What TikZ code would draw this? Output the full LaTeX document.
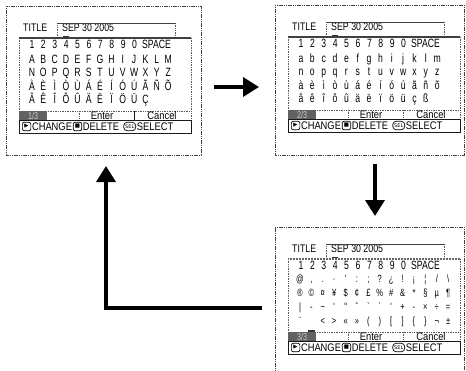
\documentclass[tikz,border=0pt]{standalone}
\usepackage{fontspec}
\setmainfont{Liberation Sans}[FakeStretch=0.85]
\newfontfamily\narrowf{Liberation Sans}[FakeStretch=0.72]
\newfontfamily\midf{Liberation Sans}[FakeStretch=0.8]
\newfontfamily\symf{DejaVu Sans}
\usetikzlibrary{arrows.meta}
\tikzset{
  outerbox/.style={draw=black!75, line width=1pt, dash pattern=on 1.2pt off 0.6pt},
  dotline/.style={draw=black!65, line width=0.8pt, dash pattern=on 1pt off 0.7pt},
  boxline/.style={draw=black!90, line width=0.9pt},
  thinsolid/.style={draw=black!75, line width=0.7pt},
  gridtop/.style={draw=black!75, line width=2pt},
  gridtopdot/.style={draw=black!60, line width=2pt, dash pattern=on 1pt off 0.5pt},
  titletext/.style={inner sep=0pt, text=black, font=\midf\fontsize{11}{12}\selectfont},
  glyph/.style={inner sep=0pt, text=black, font=\narrowf\fontsize{12}{13}\selectfont},
  symglyph/.style={inner sep=0pt, text=black, font=\narrowf\fontsize{10.5}{12}\selectfont},
  menu/.style={inner sep=0pt, text=black, font=\fontsize{11}{12}\selectfont},
  cmd/.style={inner sep=0pt, text=black, font=\fontsize{11}{12}\selectfont},
  pagebox/.style={fill=black!62, draw=none, text=white!80!black, inner sep=0pt, font=\narrowf\fontsize{10}{10}\selectfont},
  iconbox/.style={draw=black, line width=0.7pt, rounded corners=2pt, inner sep=0.5pt,
    minimum height=8.5pt, minimum width=8.5pt, text=black, font=\symf\fontsize{5.5}{6}\selectfont},
  selbox/.style={draw=black, line width=0.7pt, rounded corners=3.5pt, inner sep=0.8pt,
    minimum height=8.5pt, minimum width=12pt, text=black, font=\symf\fontsize{5}{6}\selectfont},
  bigarrow/.style={draw=black, line width=3.5pt, line join=miter, -{Triangle[length=16pt,width=19pt]}},
}
% a row of single glyphs: #1 name prefix, #2 first x, #3 step, #4 baseline y, #5 list, #6 style
\newcommand{\glyphrow}[6]{%
  \foreach \s [count=\i] in {#5} {\node[#6, anchor=base] (#1c\i) at ({#2+#3*(\i-1)}, #4) {\s};}%
}
% common parts of one screen: #1 prefix, #2 page text, #3 first divider, #4 second divider, #5 grid top
\newcommand{\camframe}[5]{%
  \node[titletext, anchor=base west] (#1title) at (17,25) {TITLE};
  \node[titletext, anchor=base west] (#1sep) at (56,25) {SEP 30 2005};
  \draw[dotline] (51,32) -- (51,17);
  \draw[thinsolid] (51,17) -- (169,17);
  \draw[dotline] (169,17) -- (169,32);
  \fill[black!80] (56.5,29.6) rectangle (62.5,31.4);
  \draw[dotline] (13,32) -- (13,114);
  \draw[dotline] (185,32) -- (185,114);
  \draw[dotline] (13,105) -- (185,105);
  \draw[#5] (13,32) -- (185,32);
  \node[pagebox, anchor=north west, minimum width=28pt, minimum height=9pt] (#1page) at (13,105) {#2};
  \draw[#3] (73,105) -- (73,114);
  \draw[#4] (128,105) -- (128,114);
  \node[menu] (#1enter) at (96,109.7) {Enter};
  \node[menu] (#1cancel) at (156,109.7) {Cancel};
  \draw[boxline] (13,114) rectangle (185,127);
  \node[iconbox, anchor=west] (#1ia) at (16,120.5) {▶};
  \node[cmd, anchor=west] (#1ta) at ([xshift=0.6pt]#1ia.east) {CHANGE};
  \node[iconbox, anchor=west] (#1ib) at ([xshift=0.6pt]#1ta.east) {■};
  \node[cmd, anchor=west] (#1tb) at ([xshift=0.6pt]#1ib.east) {DELETE};
  \node[selbox, anchor=west] (#1ic) at ([xshift=4pt]#1tb.east) {SEL};
  \node[cmd, anchor=west] (#1tc) at ([xshift=0.6pt]#1ic.east) {SELECT};
}
\begin{document}
\begin{tikzpicture}[x=1pt, y=-1pt]
\useasboundingbox (0,0) rectangle (466,370);

% outer frames
\draw[outerbox] (6,6) rectangle (201,155);
\draw[outerbox] (275,5) rectangle (464,155);
\draw[outerbox] (275,380) -- (275,227) -- (464,227) -- (464,380);

% screen 1
\begin{scope}[shift={(6,6)}]
  \camframe{pa}{1/3}{dotline}{boxline}{gridtop}
  \glyphrow{pad}{26}{11.4}{42}{1,2,3,4,5,6,7,8,9,0}{glyph}
  \node[glyph, anchor=base west] (paspace) at (136,42) {SPACE};
  \glyphrow{paa}{26}{11.35}{57}{A,B,C,D,E,F,G,H,I,J,K,L,M}{glyph}
  \glyphrow{pan}{26}{11.35}{70.5}{N,O,P,Q,R,S,T,U,V,W,X,Y,Z}{glyph}
  \glyphrow{pag}{26}{11.35}{84}{À,È,Ì,Ò,Ù,Á,É,Í,Ó,Ú,Ã,Ñ,Õ}{glyph}
  \glyphrow{pac}{26}{11.35}{97}{Â,Ê,Î,Ô,Û,Ä,Ë,Ï,Ö,Ü,Ç}{glyph}
\end{scope}

% screen 2
\begin{scope}[shift={(275,5)}]
  \camframe{pb}{2/3}{dotline}{dotline}{gridtop}
  \glyphrow{pbd}{26}{11.4}{42}{1,2,3,4,5,6,7,8,9,0}{glyph}
  \node[glyph, anchor=base west] (pbspace) at (136,42) {SPACE};
  \glyphrow{pba}{26}{11.35}{57}{a,b,c,d,e,f,g,h,i,j,k,l,m}{glyph}
  \glyphrow{pbn}{26}{11.35}{70.5}{n,o,p,q,r,s,t,u,v,w,x,y,z}{glyph}
  \glyphrow{pbg}{26}{11.35}{84}{à,è,ì,ò,ù,á,é,í,ó,ú,ã,ñ,õ}{glyph}
  \glyphrow{pbc}{26}{11.35}{97}{â,ê,î,ô,û,ä,ë,ï,ö,ü,ç,ß}{glyph}
\end{scope}

% screen 3
\begin{scope}[shift={(275,227)}]
  \camframe{pc}{3/3}{dotline}{dotline}{gridtopdot}
  \glyphrow{pcd}{26}{11.4}{42}{1,2,3,4,5,6,7,8,9,0}{glyph}
  \node[glyph, anchor=base west] (pcspace) at (136,42) {SPACE};
  \glyphrow{pcp}{25}{11.4}{55.5}{{@},{,},{.},{·},{'},{:},{;},{?},{¿},{!},{¡},{¦},{/},{\textbackslash}}{symglyph}
  \glyphrow{pcm}{25}{11.4}{69.5}{{®},{©},{¤},{¥},{\$},{¢},{£},{\%},{\#},{\&},{*},{§},{µ},{¶}}{symglyph}
  \glyphrow{pco}{25}{11.4}{83.5}{{|},{-},{\textasciitilde},{'},{"},{ˆ},{`},{´},{'},{+},{-},{×},{÷},{=}}{symglyph}
  \node[symglyph, anchor=base] (pcum) at (25,97) {¨};
  \glyphrow{pcb}{47.8}{11.4}{97}{{<},{>},{«},{»},{(},{)},{[},{]},{\{},{\}},{¬},{±}}{symglyph}
  \fill[black!80] (33,102.6) rectangle (40,104.6);
\end{scope}

% connectors between the screens
\coordinate (ra) at (214,87);
\coordinate (rb) at (259,87);
\coordinate (da) at (375,164);
\coordinate (db) at (375,216);
\coordinate (la) at (262,308);
\coordinate (lc) at (106,308);
\coordinate (lb) at (106,166);
\draw[bigarrow] (ra) -- (rb);
\draw[bigarrow] (da) -- (db);
\draw[bigarrow] (la) -- (lc) -- (lb);
\end{tikzpicture}
\end{document}
